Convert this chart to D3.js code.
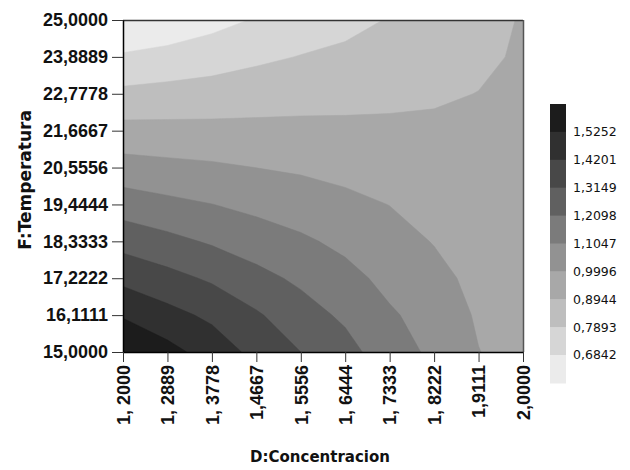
<!DOCTYPE html>
<html>
<head>
<meta charset="utf-8">
<script src="https://cdn.jsdelivr.net/npm/d3@7"></script>
<style>
  body { margin: 0; background: #fff; }
  svg { display: block; }
</style>
</head>
<body>
<script>
// axis ticks
const xTicks = [1.2, 1.2889, 1.3778, 1.4667, 1.5556, 1.6444, 1.7333, 1.8222, 1.9111, 2.0];
const xTickLabels = ["1, 2000", "1, 2889", "1, 3778", "1,4667", "1, 5556", "1, 6444", "1, 7333", "1, 8222", "1,9111", "2,0000"];
const yTicks = [15, 16.1111, 17.2222, 18.3333, 19.4444, 20.5556, 21.6667, 22.7778, 23.8889, 25];
const yTickLabels = ["15,0000", "16,1111", "17,2222", "18,3333", "19,4444", "20,5556", "21,6667", "22,7778", "23,8889", "25,0000"];

// contour levels and band colours (lowest band first)
const levels = [0.6842, 0.7893, 0.8944, 0.9996, 1.1047, 1.2098, 1.3149, 1.4201, 1.5252];
const levelLabels = ["0,6842", "0,7893", "0,8944", "0,9996", "1,1047", "1,2098", "1,3149", "1,4201", "1,5252"];
const bandColors = ["#ebebeb", "#d6d6d6", "#bebebe", "#a8a8a8", "#929292", "#7b7b7b", "#606060", "#484848", "#303030", "#1c1c1c"];

// response: rows from F=25 (top) down to F=15, columns D=1.2 .. 2.0
const zRows = [
  [0.584, 0.609, 0.650, 0.692, 0.731, 0.759, 0.795, 0.828, 0.850, 0.904],
  [0.697, 0.718, 0.742, 0.770, 0.793, 0.811, 0.830, 0.856, 0.877, 0.906],
  [0.813, 0.824, 0.833, 0.846, 0.856, 0.864, 0.872, 0.883, 0.896, 0.912],
  [0.928, 0.925, 0.923, 0.921, 0.920, 0.916, 0.914, 0.911, 0.911, 0.918],
  [1.042, 1.027, 1.015, 0.999, 0.986, 0.970, 0.956, 0.939, 0.926, 0.924],
  [1.159, 1.130, 1.106, 1.078, 1.053, 1.025, 0.998, 0.967, 0.941, 0.930],
  [1.278, 1.238, 1.198, 1.158, 1.121, 1.081, 1.038, 0.995, 0.957, 0.936],
  [1.393, 1.348, 1.300, 1.241, 1.190, 1.136, 1.077, 1.029, 0.972, 0.942],
  [1.515, 1.453, 1.399, 1.327, 1.254, 1.191, 1.117, 1.065, 0.987, 0.950],
  [1.637, 1.560, 1.480, 1.390, 1.315, 1.247, 1.150, 1.085, 1.002, 0.958]
];

const W = 630, H = 470;
const plot = { left: 123, right: 523, top: 20, bottom: 352 };

const svg = d3.select("body").append("svg")
  .attr("width", W)
  .attr("height", H);

const x = d3.scaleLinear().domain([1.2, 2.0]).range([plot.left, plot.right]);
const y = d3.scaleLinear().domain([15, 25]).range([plot.bottom, plot.top]);

// pad the grid by one copy of each edge so the clipped contours are exact at the border
const nc = zRows[0].length, nr = zRows.length;
const gw = nc + 2, gh = nr + 2;
const grid = [];
for (let j = 0; j < gh; j++) {
  const r = zRows[Math.min(nr - 1, Math.max(0, j - 1))];
  for (let i = 0; i < gw; i++) {
    grid.push(r[Math.min(nc - 1, Math.max(0, i - 1))]);
  }
}
// d3.contours puts value i at i + 0.5, data column 0 sits at 1.5
const gx = d3.scaleLinear().domain([1.5, nc + 0.5]).range([x(1.2), x(2.0)]);
const gy = d3.scaleLinear().domain([1.5, nr + 0.5]).range([y(25), y(15)]);

const contours = d3.contours().size([gw, gh]).thresholds(levels)(grid);
const path = d3.geoPath(d3.geoTransform({
  point: function(px, py) { this.stream.point(gx(px), gy(py)); }
}));

svg.append("clipPath").attr("id", "clip")
  .append("rect")
    .attr("x", plot.left).attr("y", plot.top)
    .attr("width", plot.right - plot.left)
    .attr("height", plot.bottom - plot.top);

const g = svg.append("g").attr("clip-path", "url(#clip)");
g.append("rect")
  .attr("x", plot.left).attr("y", plot.top)
  .attr("width", plot.right - plot.left)
  .attr("height", plot.bottom - plot.top)
  .attr("fill", bandColors[0]);

g.selectAll("path.band")
  .data(contours)
  .enter()
  .append("path")
    .attr("class", "band")
    .attr("d", path)
    .attr("fill", (d, i) => bandColors[i + 1])
    .attr("stroke", (d, i) => bandColors[i + 1])
    .attr("stroke-width", 0.5);

// frame
svg.append("line")
  .attr("x1", plot.left).attr("x2", plot.right)
  .attr("y1", plot.top + 0.5).attr("y2", plot.top + 0.5)
  .attr("stroke", "#333").attr("stroke-width", 1.5);
svg.append("line")
  .attr("x1", plot.right + 0.5).attr("x2", plot.right + 0.5)
  .attr("y1", plot.top).attr("y2", plot.bottom)
  .attr("stroke", "#555").attr("stroke-width", 1.5);

// y axis
const yAxis = d3.axisLeft(y)
  .tickValues(yTicks)
  .tickFormat((d, i) => yTickLabels[i])
  .tickSize(11)
  .tickSizeOuter(0)
  .tickPadding(4);

const yg = svg.append("g")
  .attr("transform", `translate(${plot.left}, 0)`)
  .call(yAxis);
yg.select(".domain").attr("stroke", "#000").attr("stroke-width", 1.5);
yg.selectAll(".tick line").attr("stroke", "#333");
yg.selectAll("text")
  .style("font-family", "'Liberation Sans', Arial, sans-serif")
  .style("font-weight", "bold")
  .style("font-size", "18px")
  .attr("fill", "#111");

// x axis
const xAxis = d3.axisBottom(x)
  .tickValues(xTicks)
  .tickFormat((d, i) => xTickLabels[i])
  .tickSize(10)
  .tickSizeOuter(0);

const xg = svg.append("g")
  .attr("transform", `translate(0, ${plot.bottom})`)
  .call(xAxis);
xg.select(".domain").attr("stroke", "#000").attr("stroke-width", 1.5);
xg.selectAll(".tick line").attr("stroke", "#333");
xg.selectAll("text")
  .attr("transform", "rotate(-90)")
  .attr("x", -13)
  .attr("y", 0)
  .attr("dy", "0.35em")
  .style("text-anchor", "end")
  .style("font-family", "'Liberation Sans', Arial, sans-serif")
  .style("font-weight", "bold")
  .style("font-size", "18px")
  .attr("fill", "#111");

// axis titles
svg.append("text")
  .attr("x", 320)
  .attr("y", 462)
  .attr("text-anchor", "middle")
  .style("font-family", "'DejaVu Sans', sans-serif")
  .style("font-weight", "bold")
  .style("font-size", "15px")
  .attr("fill", "#111")
  .text("D:Concentracion");

svg.append("text")
  .attr("transform", "translate(31, 180) rotate(-90)")
  .attr("text-anchor", "middle")
  .style("font-family", "'DejaVu Sans', sans-serif")
  .style("font-weight", "bold")
  .style("font-size", "17px")
  .attr("fill", "#111")
  .text("F:Temperatura");

// legend
const legendTop = 104, legendBottom = 383, legendX = 550, legendW = 16;
const ly = d3.scaleLinear().domain([0, bandColors.length]).range([legendTop, legendBottom]);
const legendColors = bandColors.slice().reverse();

svg.selectAll("rect.legend")
  .data(legendColors)
  .enter()
  .append("rect")
    .attr("class", "legend")
    .attr("x", legendX)
    .attr("y", (d, i) => ly(i))
    .attr("width", legendW)
    .attr("height", (d, i) => ly(i + 1) - ly(i) + 0.5)
    .attr("fill", d => d);

const legendLabels = levelLabels.slice().reverse();
svg.selectAll("text.legend")
  .data(legendLabels)
  .enter()
  .append("text")
    .attr("class", "legend")
    .attr("x", 573)
    .attr("y", (d, i) => ly(i + 1))
    .attr("dy", "0.35em")
    .style("font-family", "'DejaVu Sans', sans-serif")
    .style("font-size", "12.5px")
    .attr("fill", "#111")
    .text(d => d);
</script>
</body>
</html>
